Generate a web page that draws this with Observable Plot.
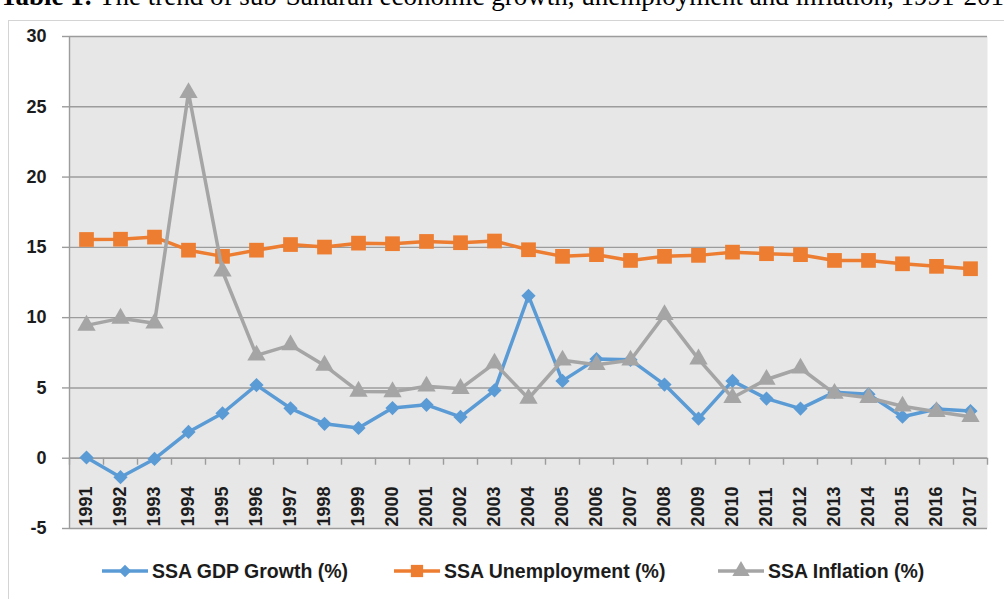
<!DOCTYPE html>
<html>
<head>
<meta charset="utf-8">
<script src="https://cdn.jsdelivr.net/npm/d3@7"></script>
<script src="https://cdn.jsdelivr.net/npm/@observablehq/plot@0.6"></script>
<style>
  html, body { margin: 0; padding: 0; background: #fff; width: 1004px; height: 599px; overflow: hidden; }
  #title { position: absolute; left: 0; top: -19px; white-space: nowrap; font-family: "Liberation Serif", "Times New Roman", serif; font-size: 27px; color: #000; }
  #frame { position: absolute; left: 8px; top: 20px; width: 1100px; height: 700px; border: 1.5px solid #d4d4d4; box-sizing: border-box; }
  #chart { position: absolute; left: 0; top: 0; }
  .leg { position: absolute; top: 558px; height: 26px; display: flex; align-items: center; font-family: "Liberation Sans", Arial, sans-serif; font-weight: bold; font-size: 19.5px; color: #1c1c1c; white-space: nowrap; }
  .leg svg { margin-right: 4px; }
</style>
</head>
<body>
<div id="title"><b>Table 1:</b> The trend of sub-Saharan economic growth, unemployment and inflation, 1991-2017</div>
<div id="frame"></div>
<div id="chart"></div>
<div id="legend"></div>
<script>
const years = [1991,1992,1993,1994,1995,1996,1997,1998,1999,2000,2001,2002,2003,2004,2005,2006,2007,2008,2009,2010,2011,2012,2013,2014,2015,2016,2017];
const gdpGrowth = [0.05,-1.35,-0.05,1.87,3.2,5.2,3.55,2.45,2.15,3.57,3.8,2.94,4.83,11.55,5.5,7.05,7.0,5.24,2.82,5.5,4.24,3.53,4.7,4.55,2.95,3.5,3.36];
const unemployment = [15.56,15.58,15.73,14.8,14.36,14.8,15.2,15.02,15.3,15.26,15.42,15.33,15.45,14.83,14.36,14.48,14.07,14.36,14.43,14.66,14.55,14.48,14.07,14.07,13.83,13.65,13.48];
const inflation = [9.45,9.95,9.6,26.0,13.3,7.32,8.05,6.6,4.75,4.72,5.12,4.95,6.75,4.25,6.97,6.65,6.97,10.2,7.05,4.3,5.6,6.4,4.6,4.3,3.7,3.3,2.95];
const yTicks = [-5,0,5,10,15,20,25,30];
const seriesNames = ["SSA GDP Growth (%)", "SSA Unemployment (%)", "SSA Inflation (%)"];
const seriesColors = ["#5b9bd5", "#ed7d31", "#a5a5a5"];

const boundaries = years.concat([years[years.length - 1] + 1]).map((d, i) => i - 0.5);
const rows = (vals) => vals.map((v, i) => ({i, v}));

const gridColor = "#9c9c9c";
const textColor = "#1c1c1c";

const seriesMarks = (vals, color, symbol, r) => [
  Plot.line(rows(vals), {x: "i", y: "v", stroke: color, strokeWidth: 3.5, strokeLinejoin: "round"}),
  Plot.dot(rows(vals), {x: "i", y: "v", fill: color, stroke: "none", symbol, r})
];

const chart = Plot.plot({
  width: 1004,
  height: 545,
  marginLeft: 69,
  marginRight: 17,
  marginTop: 36,
  marginBottom: 17,
  x: {type: "linear", domain: [-0.5, years.length - 0.5], axis: null, label: null},
  y: {domain: [-5, 30], axis: null, label: null},
  style: {fontFamily: "'Liberation Sans', Arial, sans-serif", fontSize: "18px", fontWeight: "bold", background: "transparent", overflow: "visible"},
  marks: [
    Plot.frame({fill: "#e7e7e7", stroke: "none"}),
    Plot.ruleY(yTicks, {stroke: gridColor, strokeWidth: 1.4}),
    Plot.axisY({ticks: yTicks, tickSize: 7, tickPadding: 16, stroke: gridColor, strokeWidth: 1.4, fill: textColor, label: null, tickFormat: d => String(d)}),
    Plot.ruleX([boundaries[0]], {stroke: gridColor, strokeWidth: 1.4}),
    Plot.ruleY([0], {stroke: gridColor, strokeWidth: 1.4}),
    Plot.ruleX(boundaries, {y1: 0, y2: -0.5, stroke: gridColor, strokeWidth: 1.4}),
    Plot.text(years, {x: (d, i) => i, y: -5, text: d => String(d), rotate: -90, textAnchor: "start", lineAnchor: "middle", dy: -2, fill: textColor}),
    ...seriesMarks(gdpGrowth, seriesColors[0], "diamond2", 6.4),
    ...seriesMarks(unemployment, seriesColors[1], "square", 8.3),
    ...seriesMarks(inflation, seriesColors[2], "triangle", 6.8)
  ]
});
document.getElementById("chart").appendChild(chart);

// Legend
const legendLeft = [102, 394, 718];
const legendSymbols = [d3.symbolDiamond2, d3.symbolSquare, d3.symbolTriangle];
const legendSizes = [100, 150, 130];
const legend = document.getElementById("legend");
seriesNames.forEach((name, k) => {
  const item = document.createElement("div");
  item.className = "leg";
  item.style.left = legendLeft[k] + "px";
  const svg = d3.create("svg").attr("width", 46).attr("height", 26);
  svg.append("line").attr("x1", 0).attr("x2", 46).attr("y1", 13).attr("y2", 13)
    .attr("stroke", seriesColors[k]).attr("stroke-width", 3.5);
  svg.append("path").attr("d", d3.symbol(legendSymbols[k], legendSizes[k])())
    .attr("transform", "translate(23,13)").attr("fill", seriesColors[k]);
  item.appendChild(svg.node());
  const span = document.createElement("span");
  span.textContent = name;
  item.appendChild(span);
  legend.appendChild(item);
});
</script>
</body>
</html>
